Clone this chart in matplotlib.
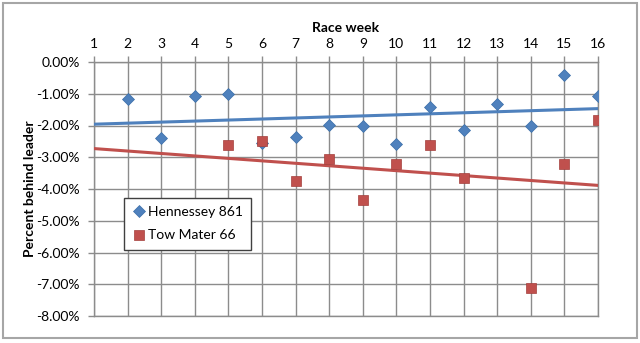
import numpy as np
from matplotlib import pyplot as plt
from matplotlib.ticker import FuncFormatter

plt.rcParams['font.family'] = ['Lato', 'DejaVu Sans']

weeks = list(range(1, 17))
# percent behind leader per race week (nan = no result that week)
hennessey = [np.nan, -1.17, -2.39, -1.07, -1.00, -2.55, -2.36, -1.98,
             -2.00, -2.58, -1.42, -2.14, -1.32, -2.00, -0.41, -1.07]
tow_mater = [np.nan, np.nan, np.nan, np.nan, -2.60, -2.48, -3.76, -3.05,
             -4.36, -3.20, -2.60, -3.65, np.nan, -7.12, -3.22, -1.84]

BLUE = '#4F81BD'
RED = '#C0504D'
GRID = '#8C8C8C'


def trend(x, y):
    """Least squares line over the weeks that have a value."""
    x = np.asarray(x, dtype=float)
    y = np.asarray(y, dtype=float)
    ok = ~np.isnan(y)
    k, b = np.polyfit(x[ok], y[ok], 1)
    return k * x + b


fig = plt.figure(figsize=(6.4, 3.43), dpi=100)
ax = fig.add_axes([94 / 640, 1 - 316 / 343, 504 / 640, 254 / 343])

ax.plot(weeks, trend(weeks, hennessey), color=BLUE, linewidth=2.2, zorder=3)
ax.plot(weeks, trend(weeks, tow_mater), color=RED, linewidth=2.2, zorder=3)
ax.plot(weeks, hennessey, 'D', color=BLUE, markersize=6.5, markeredgecolor='#3A6EA8',
        markeredgewidth=0.5, linestyle='none', label='Hennessey 861', zorder=4)
ax.plot(weeks, tow_mater, 's', color=RED, markersize=7.5, markeredgecolor='#A33F3C',
        markeredgewidth=0.5, linestyle='none', label='Tow Mater 66', zorder=4)

ax.set_xlim(1, 16)
ax.set_ylim(-8, 0)
ax.set_xticks(weeks)
ax.set_yticks(np.arange(-8, 0.5, 1))
ax.yaxis.set_major_formatter(FuncFormatter(lambda v, p: '{:.2f}%'.format(v).replace('-0.00', '0.00')))
ax.xaxis.tick_top()
ax.xaxis.set_label_position('top')
ax.tick_params(axis='both', labelsize=10, colors='black', length=4, width=1, color=GRID)
ax.tick_params(axis='x', direction='out', pad=5)
ax.tick_params(axis='y', pad=6)
ax.grid(True, color=GRID, linewidth=1)
ax.set_axisbelow(True)
for s in ax.spines.values():
    s.set_color(GRID)
    s.set_linewidth(1)

ax.set_xlabel('Race week', fontsize=10, fontweight='bold', labelpad=4)
ax.set_ylabel('Percent behind leader', fontsize=10, fontweight='bold', labelpad=0)

leg = ax.legend(loc='upper left', bbox_to_anchor=((124 - 94) / 504, (316 - 198) / 254),
                borderaxespad=0, fontsize=10, frameon=True, fancybox=False, handletextpad=0.1,
                handlelength=1.0, borderpad=0.6, labelspacing=0.8, framealpha=1)
leg.get_frame().set_edgecolor('#404040')
leg.get_frame().set_linewidth(1)

# light outer border of the chart area
fig.patches.append(plt.Rectangle((3 / 640, 5 / 343), 634 / 640, 335 / 343, transform=fig.transFigure,
                                 fill=False, edgecolor='#A6A6A6', linewidth=1.5))

plt.savefig('out.png', dpi=100)
